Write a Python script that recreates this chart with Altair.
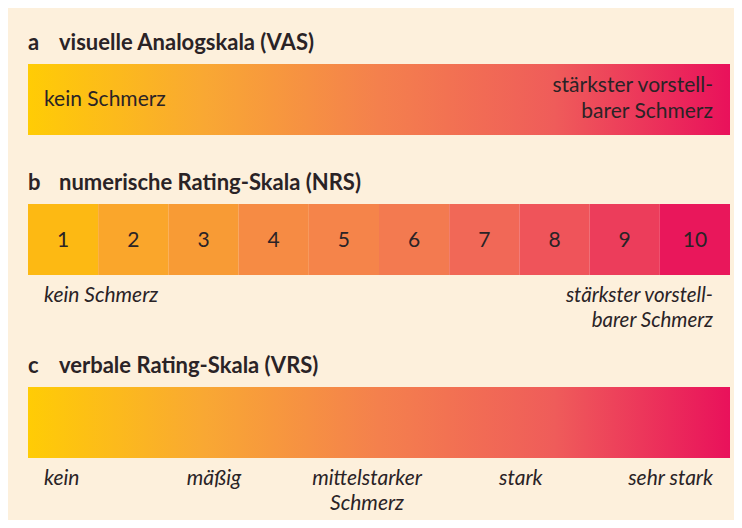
import altair as alt
import pandas as pd

# ---- data ----
section_letters = ["a", "b", "c"]
section_titles = ["visuelle Analogskala (VAS)", "numerische Rating-Skala (NRS)", "verbale Rating-Skala (VRS)"]

nrs_values = [1, 2, 3, 4, 5, 6, 7, 8, 9, 10]
nrs_colors = ["#FDB913", "#FAA62B", "#F89B35", "#F68B44", "#F5844A",
              "#F37A50", "#F16857", "#EF545A", "#EC3D5B", "#E9175B"]

vas_labels = ["kein Schmerz", "stärkster vorstell-\nbarer Schmerz"]
nrs_labels = ["kein Schmerz", "stärkster vorstell-\nbarer Schmerz"]

vrs_labels = ["kein", "mäßig", "mittelstarker\nSchmerz", "stark", "sehr stark"]
vrs_pos = [0, 2.65, 4.83, 7.02, 10]

grad_offsets = [0, 0.25, 0.5, 0.75, 1]
grad_colors = ["#FFCC05", "#F9A833", "#F4804D", "#EF5C5A", "#E9115B"]

# ---- layout (plot coordinates) ----
W, H = 726, 512
BG = "#FDF0DC"
TXT = "#2A2326"
FONT = "Lato"

x_scale = alt.Scale(domain=[0, 10], range=[20, 722])
y_scale = alt.Scale(domain=[0, H], range=[0, H])

bar_top = [56, 196, 379]
bar_h = 71
title_base = [42, 182, 365]

X = lambda f: alt.X(f, type="quantitative", scale=x_scale, axis=None)
Y = lambda f: alt.Y(f, type="quantitative", scale=y_scale, axis=None)

gradient = alt.Gradient(
    gradient="linear",
    stops=[alt.GradientStop(offset=o, color=c) for o, c in zip(grad_offsets, grad_colors)],
    x1=0, x2=1, y1=0, y2=0,
)

# gradient bars (VAS and VRS)
grad_df = pd.DataFrame({
    "x0": [0, 0], "x1": [10, 10],
    "y0": [bar_top[0], bar_top[2]],
    "y1": [bar_top[0] + bar_h, bar_top[2] + bar_h],
})
grad_bars = alt.Chart(grad_df).mark_rect(color=gradient).encode(
    x=X("x0"), x2="x1", y=Y("y0"), y2="y1"
)

# NRS cells
nrs_df = pd.DataFrame({
    "v": nrs_values,
    "x0": [v - 1 for v in nrs_values],
    "x1": nrs_values,
    "xc": [v - 0.5 for v in nrs_values],
    "col": nrs_colors,
    "y0": bar_top[1],
    "y1": bar_top[1] + bar_h,
    "yt": bar_top[1] + 43,
})
nrs_cells = alt.Chart(nrs_df).mark_rect().encode(
    x=X("x0"), x2="x1", y=Y("y0"), y2="y1",
    color=alt.Color("col:N", scale=None),
)
nrs_nums = alt.Chart(nrs_df).mark_text(
    font=FONT, fontSize=21, color=TXT, baseline="alphabetic", align="center"
).encode(x=X("xc"), y=Y("yt"), text="v:N")

# titles
titles_df = pd.DataFrame({"letter": section_letters, "title": section_titles,
                          "x": [0, 0, 0], "y": title_base})
letters = alt.Chart(titles_df).mark_text(
    font=FONT, fontSize=22, fontWeight="bold", color=TXT, align="left", baseline="alphabetic"
).encode(x=X("x"), y=Y("y"), text="letter:N")
title_text = alt.Chart(titles_df).mark_text(
    font=FONT, fontSize=22, fontWeight="bold", color=TXT, align="left", baseline="alphabetic", dx=31
).encode(x=X("x"), y=Y("y"), text="title:N")

# VAS labels (inside bar)
vas_left = alt.Chart(pd.DataFrame({"t": [vas_labels[0]], "x": [0], "y": [98]})).mark_text(
    font=FONT, fontSize=21, color=TXT, align="left", baseline="alphabetic", dx=16
).encode(x=X("x"), y=Y("y"), text="t:N")
vas_right = alt.Chart(pd.DataFrame({"t": [vas_labels[1]], "x": [10], "y": [84]})).mark_text(
    font=FONT, fontSize=21, color=TXT, align="right", baseline="alphabetic", dx=-17,
    lineBreak="\n", lineHeight=26
).encode(x=X("x"), y=Y("y"), text="t:N")

# NRS labels (below bar)
nrs_left = alt.Chart(pd.DataFrame({"t": [nrs_labels[0]], "x": [0], "y": [294]})).mark_text(
    font=FONT, fontSize=21, fontStyle="italic", color=TXT, align="left", baseline="alphabetic", dx=16
).encode(x=X("x"), y=Y("y"), text="t:N")
nrs_right = alt.Chart(pd.DataFrame({"t": [nrs_labels[1]], "x": [10], "y": [294]})).mark_text(
    font=FONT, fontSize=20.5, fontStyle="italic", color=TXT, align="right", baseline="alphabetic", dx=-17,
    lineBreak="\n", lineHeight=25
).encode(x=X("x"), y=Y("y"), text="t:N")

# VRS labels
vrs_df = pd.DataFrame({"t": vrs_labels, "x": vrs_pos, "y": 477})
vrs_first = alt.Chart(vrs_df.iloc[[0]]).mark_text(
    font=FONT, fontSize=21, fontStyle="italic", color=TXT, align="left", baseline="alphabetic", dx=16
).encode(x=X("x"), y=Y("y"), text="t:N")
vrs_mid = alt.Chart(vrs_df.iloc[1:4]).mark_text(
    font=FONT, fontSize=21, fontStyle="italic", color=TXT, align="center", baseline="alphabetic",
    lineBreak="\n", lineHeight=25
).encode(x=X("x"), y=Y("y"), text="t:N")
vrs_last = alt.Chart(vrs_df.iloc[[4]]).mark_text(
    font=FONT, fontSize=21, fontStyle="italic", color=TXT, align="right", baseline="alphabetic", dx=-17
).encode(x=X("x"), y=Y("y"), text="t:N")

chart = alt.layer(
    grad_bars, nrs_cells, nrs_nums, letters, title_text,
    vas_left, vas_right, nrs_left, nrs_right, vrs_first, vrs_mid, vrs_last
).properties(
    width=W, height=H, background=BG, padding=0,
    autosize=alt.AutoSizeParams(type="none")
).configure_view(stroke=None)

chart.save("out.html", embed_options={"renderer": "svg", "actions": False})
